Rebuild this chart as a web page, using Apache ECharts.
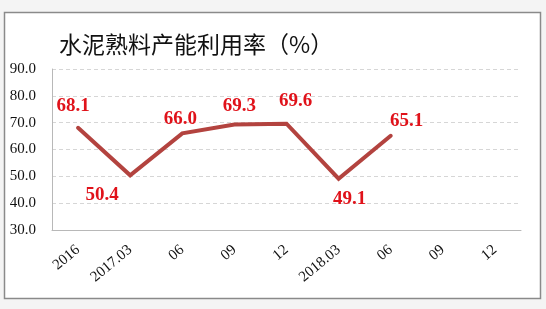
<!DOCTYPE html>
<html>
<head>
<meta charset="utf-8">
<script src="https://cdn.jsdelivr.net/npm/echarts@6/dist/echarts.min.js"></script>
<style>
html,body{margin:0;padding:0;background:#f4f4f4;}
#c{width:546px;height:309px;}
</style>
</head>
<body>
<div id="c"></div>
<script>
var titleText = '水泥熟料产能利用率（%）';
var categories = ['2016', '2017.03', '06', '09', '12', '2018.03', '06', '09', '12'];
var values = [68.1, 50.4, 66.0, 69.3, 69.6, 49.1, 65.1, null, null];
var yTicks = { min: 30, max: 90, interval: 10 };

// label placement (style only)
var labelPos = ['top', 'bottom', 'top', 'top', 'top', 'bottom', 'top', 'top', 'top'];
var labelOffset = [[-5, -7], [-28, 5], [-2, 1], [5, -3], [9, -8], [11, 5], [16, 0], [0, 0], [0, 0]];

var seriesData = values.map(function (v, i) {
  return {
    value: v,
    label: { position: labelPos[i], offset: labelOffset[i] }
  };
});

var chart = echarts.init(document.getElementById('c'), null, { renderer: 'canvas' });
chart.setOption({
  backgroundColor: '#f4f4f4',
  animation: false,
  graphic: [{
    type: 'rect',
    z: -10,
    shape: { x: 4.5, y: 12.5, width: 536, height: 286 },
    style: { fill: '#ffffff', stroke: '#8a8a8a', lineWidth: 1.5 }
  }],
  title: {
    text: titleText,
    left: 54,
    top: 28,
    textStyle: {
      fontFamily: 'Noto Sans CJK SC',
      fontSize: 23,
      fontWeight: 'normal',
      color: '#111'
    }
  },
  grid: { left: 52, right: 25, top: 69, bottom: 79, containLabel: false },
  xAxis: {
    type: 'category',
    data: categories,
    boundaryGap: true,
    axisLine: { show: true, lineStyle: { color: '#b8b8b8', width: 1 } },
    axisTick: { show: false },
    axisLabel: {
      rotate: 40,
      interval: 0,
      margin: 18,
      fontFamily: 'Liberation Serif',
      fontSize: 15,
      color: '#111'
    },
    splitLine: { show: false }
  },
  yAxis: {
    type: 'value',
    min: yTicks.min,
    max: yTicks.max,
    interval: yTicks.interval,
    axisLine: { show: true, lineStyle: { color: '#b8b8b8', width: 1 } },
    axisTick: { show: false },
    axisLabel: {
      margin: 16,
      fontFamily: 'Liberation Serif',
      fontSize: 15,
      color: '#111',
      formatter: function (v) { return v.toFixed(1); }
    },
    splitLine: { show: true, lineStyle: { color: '#d6d6d6', type: [4, 3], width: 1 } }
  },
  series: [{
    type: 'line',
    data: seriesData,
    showSymbol: true,
    symbol: 'circle',
    symbolSize: 1,
    connectNulls: false,
    lineStyle: { color: '#B3433F', width: 4, cap: 'round', join: 'miter' },
    itemStyle: { color: '#B3433F' },
    label: {
      show: true,
      distance: 5,
      fontFamily: 'Liberation Serif',
      fontSize: 19,
      fontWeight: 'bold',
      color: '#E0121A',
      formatter: function (p) { return p.value == null ? '' : p.value.toFixed(1); }
    }
  }]
});
</script>
</body>
</html>
